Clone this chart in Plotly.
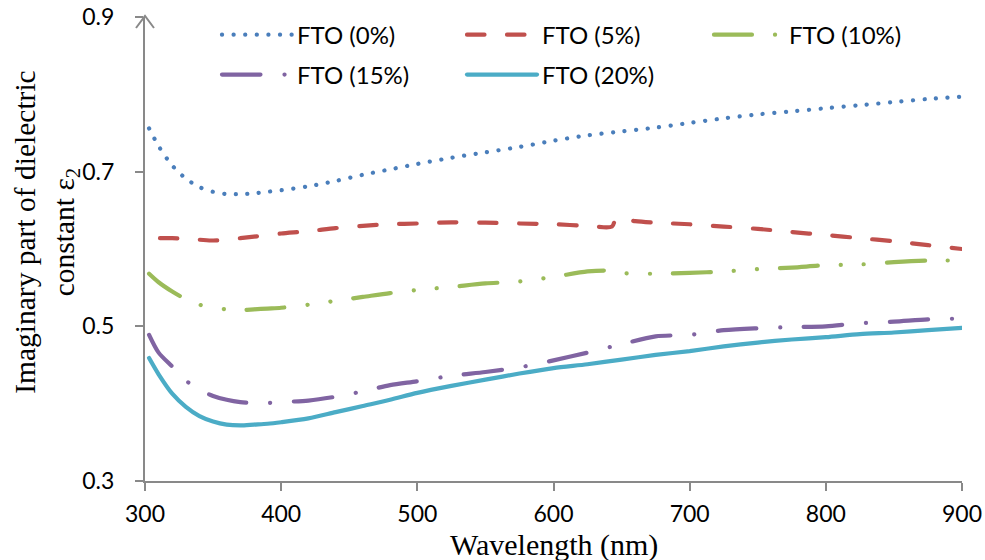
import plotly.graph_objects as go

# ---------------- data ----------------
lam_grid = [303, 310, 320, 330, 340, 350, 360, 370, 380, 390, 400, 420, 440, 460, 480,
            500, 525, 550, 575, 600, 625, 650, 675, 700, 725, 750, 775, 800, 825, 850, 875, 900]

fto0 = [0.756, 0.733, 0.708, 0.691, 0.680, 0.674, 0.671, 0.671, 0.672, 0.674, 0.676, 0.681,
        0.688, 0.696, 0.703, 0.710, 0.718, 0.725, 0.732, 0.740, 0.747, 0.752, 0.757, 0.763,
        0.769, 0.774, 0.778, 0.782, 0.786, 0.790, 0.794, 0.797]

lam_5 = [311, 320, 330, 340, 350, 360, 370, 380, 390, 400, 420, 440, 460, 480, 500, 525, 550,
         575, 600, 625, 643, 646, 660, 675, 700, 725, 750, 775, 800, 825, 850, 875, 900]
fto5 = [0.614, 0.614, 0.613, 0.612, 0.611, 0.612, 0.614, 0.616, 0.618, 0.620, 0.623, 0.627,
        0.630, 0.632, 0.633, 0.6345, 0.634, 0.633, 0.632, 0.630, 0.629, 0.640, 0.636, 0.634,
        0.632, 0.629, 0.626, 0.622, 0.618, 0.614, 0.610, 0.605, 0.600]

lam_10 = [303, 310, 320, 330, 340, 350, 360, 370, 380, 390, 400, 420, 440, 460, 480, 500, 525,
          550, 575, 600, 625, 640, 650, 675, 700, 725, 750, 775, 800, 825, 850, 875, 900]
fto10 = [0.568, 0.557, 0.545, 0.535, 0.528, 0.524, 0.522, 0.521, 0.522, 0.523, 0.524, 0.528,
         0.533, 0.538, 0.543, 0.547, 0.551, 0.5555, 0.558, 0.564, 0.571, 0.572, 0.569, 0.568,
         0.569, 0.571, 0.574, 0.576, 0.579, 0.580, 0.583, 0.585, 0.585]

fto15 = [0.489, 0.466, 0.448, 0.430, 0.418, 0.410, 0.405, 0.402, 0.401, 0.401, 0.402, 0.404,
         0.409, 0.416, 0.424, 0.429, 0.436, 0.441, 0.447, 0.456, 0.466, 0.477, 0.487, 0.489,
         0.495, 0.4975, 0.499, 0.500, 0.504, 0.506, 0.509, 0.510]

fto20 = [0.459, 0.438, 0.413, 0.396, 0.384, 0.377, 0.373, 0.372, 0.373, 0.374, 0.376, 0.381,
         0.389, 0.397, 0.405, 0.414, 0.423, 0.431, 0.439, 0.446, 0.451, 0.457, 0.463, 0.468,
         0.474, 0.479, 0.483, 0.486, 0.490, 0.492, 0.495, 0.498]

x_ticks = [300, 400, 500, 600, 700, 800, 900]
y_ticks = [0.3, 0.5, 0.7, 0.9]
y_tick_text = ["0.3", "0.5", "0.7", "0.9"]

# ---------------- styles ----------------
AX = "#898989"
LW = 4.2
# name, x, y, colour, dash, legend id, legend x (paper), legend y (paper)
series = [
    ("FTO (0%)", lam_grid, fto0, "#4A7EBB", "0.1px,11.5px", "legend", 0.0881, 0.961),
    ("FTO (5%)", lam_5, fto5, "#C0504D", "17.5px,22.5px", "legend2", 0.388, 0.961),
    ("FTO (10%)", lam_10, fto10, "#9BBB59", "38px,23px,0.1px,23px,0.1px,23px", "legend3", 0.6903, 0.961),
    ("FTO (15%)", lam_grid, fto15, "#8064A2", "38.5px,24px,0.1px,23.5px", "legend4", 0.0881, 0.875),
    ("FTO (20%)", lam_grid, fto20, "#4BACC6", "solid", "legend5", 0.388, 0.875),
]

fig = go.Figure()
legfont = dict(family="Lato, Open Sans, sans-serif", size=24, color="#000")
legends = {}
for name, xs, ys, col, dash, lg, lx, ly in series:
    fig.add_trace(go.Scatter(
        x=xs, y=ys, name=name, mode="lines", legend=lg,
        line=dict(color=col, width=LW, dash=dash, shape="spline", smoothing=0.8),
    ))
    legends[lg] = dict(orientation="h", x=lx, y=ly, xanchor="left", yanchor="middle",
                       bgcolor="rgba(0,0,0,0)", font=legfont, itemwidth=70,
                       borderwidth=0)

tickfont = dict(family="Lato, Open Sans, sans-serif", size=23, color="#000")
serif = "Liberation Serif, Times New Roman, serif"

fig.update_layout(
    width=985, height=560,
    margin=dict(l=145, r=23, t=17, b=79, autoexpand=False),
    paper_bgcolor="white", plot_bgcolor="white",
    xaxis=dict(range=[300, 900], tickvals=x_ticks, showgrid=False, zeroline=False,
               showline=True, linecolor=AX, linewidth=2, ticks="outside", ticklen=8,
               tickwidth=2, tickcolor=AX, tickfont=tickfont, ticklabelstandoff=3),
    yaxis=dict(range=[0.3, 0.9], tickvals=y_ticks, ticktext=y_tick_text, showgrid=False,
               zeroline=False, showline=True, linecolor=AX, linewidth=2, ticks="outside",
               ticklen=8, tickwidth=2, tickcolor=AX, tickfont=tickfont, ticklabelstandoff=16),
    showlegend=True,
    **legends,
)

fig.add_annotation(
    text="Imaginary part of dielectric<br>constant ε<sub>2</sub>",
    xref="paper", yref="paper", x=0, y=0.537, xshift=-98, xanchor="center", yanchor="middle",
    textangle=-90, showarrow=False, font=dict(family=serif, size=29.5, color="#000"),
)
fig.add_annotation(
    text="Wavelength (nm)", xref="paper", yref="paper", x=0.5, y=0, yshift=-64,
    xanchor="center", yanchor="middle", showarrow=False,
    font=dict(family=serif, size=30, color="#000"),
)
# open arrow head at top of the y axis
fig.add_shape(type="path", xref="paper", yref="paper", xsizemode="pixel", ysizemode="pixel",
              xanchor=0, yanchor=1, path="M-9,-11 L0,1 L9,-11",
              line=dict(color=AX, width=2))

post = """
var s=document.createElement('style');
s.innerHTML='.js-line{stroke-linecap:round !important;}';
document.head.appendChild(s);
"""
fig.write_html("out.html", post_script=post)
